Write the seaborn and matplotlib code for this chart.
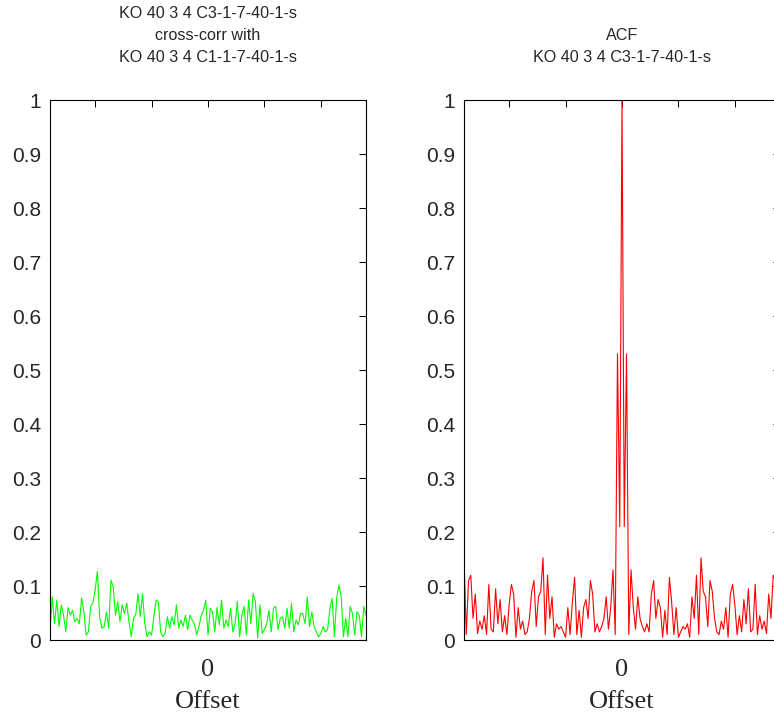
import numpy as np
import pandas as pd
import matplotlib
matplotlib.use("Agg")
import matplotlib.pyplot as plt
import seaborn as sns

# ---------------- data ----------------
lags = list(range(-70, 71))

xcorr_vals = [
    0.015, 0.080, 0.030, 0.074, 0.025, 0.065, 0.046, 0.015, 0.060, 0.046,
    0.055, 0.034, 0.040, 0.030, 0.078, 0.052, 0.009, 0.015, 0.062, 0.068,
    0.093, 0.127, 0.043, 0.022, 0.025, 0.052, 0.022, 0.111, 0.099, 0.046,
    0.071, 0.034, 0.065, 0.049, 0.068, 0.034, 0.006, 0.040, 0.048, 0.086,
    0.043, 0.086, 0.030, 0.006, 0.015, 0.009, 0.043, 0.074, 0.071, 0.015,
    0.006, 0.012, 0.043, 0.022, 0.043, 0.028, 0.065, 0.022, 0.037, 0.025,
    0.046, 0.019, 0.046, 0.037, 0.030, 0.009, 0.025, 0.046, 0.055, 0.074,
    0.009,
    0.059, 0.052, 0.015, 0.060, 0.028, 0.074, 0.022, 0.037, 0.025, 0.059,
    0.015, 0.030, 0.071, 0.006, 0.046, 0.062, 0.009, 0.074, 0.030, 0.086,
    0.071, 0.003, 0.065, 0.012, 0.019, 0.030, 0.055, 0.015, 0.059, 0.062,
    0.019, 0.040, 0.043, 0.022, 0.059, 0.022, 0.068, 0.015, 0.037, 0.028,
    0.049, 0.049, 0.030, 0.080, 0.025, 0.052, 0.025, 0.015, 0.006, 0.012,
    0.025, 0.015, 0.019, 0.059, 0.077, 0.006, 0.077, 0.102, 0.080, 0.006,
    0.040, 0.006, 0.062, 0.049, 0.009, 0.052, 0.046, 0.006, 0.062, 0.046,
]

acf_vals = [
    0.154, 0.010, 0.110, 0.120, 0.040, 0.085, 0.012, 0.035, 0.020, 0.045,
    0.010, 0.103, 0.020, 0.015, 0.095, 0.030, 0.075, 0.015, 0.045, 0.010,
    0.065, 0.103, 0.085, 0.005, 0.060, 0.020, 0.035, 0.010, 0.015, 0.040,
    0.090, 0.110, 0.025, 0.080, 0.090, 0.152, 0.010, 0.120, 0.040, 0.080,
    0.005, 0.030, 0.020, 0.025, 0.015, 0.005, 0.060, 0.010, 0.070, 0.116,
    0.010, 0.055, 0.005, 0.060, 0.075, 0.040, 0.110, 0.085, 0.015, 0.030,
    0.015, 0.025, 0.040, 0.080, 0.020, 0.060, 0.130, 0.010, 0.530, 0.210,
    1.000,
    0.210, 0.530, 0.010, 0.130, 0.060, 0.020, 0.080, 0.040, 0.025, 0.015,
    0.030, 0.015, 0.085, 0.110, 0.040, 0.075, 0.060, 0.005, 0.055, 0.010,
    0.116, 0.070, 0.010, 0.060, 0.005, 0.015, 0.025, 0.020, 0.030, 0.005,
    0.080, 0.040, 0.120, 0.010, 0.152, 0.090, 0.080, 0.025, 0.110, 0.090,
    0.040, 0.015, 0.010, 0.035, 0.020, 0.060, 0.005, 0.085, 0.103, 0.065,
    0.010, 0.045, 0.015, 0.075, 0.030, 0.095, 0.015, 0.020, 0.103, 0.010,
    0.045, 0.020, 0.035, 0.012, 0.085, 0.040, 0.120, 0.110, 0.010, 0.154,
]

ytick_vals = [0, 0.1, 0.2, 0.3, 0.4, 0.5, 0.6, 0.7, 0.8, 0.9, 1]
ytick_labels = ["0", "0.1", "0.2", "0.3", "0.4", "0.5", "0.6", "0.7", "0.8", "0.9", "1"]
xtick_vals = [-50, -25, 0, 25, 50]
xtick_labels = ["", "", "0", "", ""]

title_left = "KO 40 3 4 C3-1-7-40-1-s\ncross-corr with\nKO 40 3 4 C1-1-7-40-1-s"
title_right = "ACF\nKO 40 3 4 C3-1-7-40-1-s"
x_label = "Offset"

# ---------------- style ----------------
sns.set_theme(style="white")
plt.rcParams["font.family"] = ["Liberation Sans", "DejaVu Sans"]

SANS = ["Liberation Sans", "DejaVu Sans"]
SERIF = ["Liberation Serif", "DejaVu Serif"]

W, H = 774, 717
fig = plt.figure(figsize=(W / 100, H / 100), dpi=100)
fig.patch.set_facecolor("white")

ax_left = fig.add_axes([50 / W, 77 / H, 316 / W, 540 / H])
ax_right = fig.add_axes([464 / W, 77 / H, 316 / W, 540 / H])

df_left = pd.DataFrame({"lag": lags, "value": xcorr_vals})
df_right = pd.DataFrame({"lag": lags, "value": acf_vals})

sns.lineplot(data=df_left, x="lag", y="value", ax=ax_left,
             color="#00ff00", linewidth=0.8, estimator=None)
sns.lineplot(data=df_right, x="lag", y="value", ax=ax_right,
             color="#ff0000", linewidth=0.8, estimator=None)

for ax, ttl in [(ax_left, title_left), (ax_right, title_right)]:
    ax.set_facecolor("white")
    ax.set_xlim(-70, 70)
    ax.set_ylim(0, 1)
    ax.set_yticks(ytick_vals)
    ax.set_yticklabels(ytick_labels, fontsize=15, family=SANS)
    ax.set_xticks(xtick_vals)
    ax.set_xticklabels(xtick_labels, fontsize=19, family=SERIF)
    ax.tick_params(axis="both", direction="in", top=True, right=True,
                   length=5, width=0.75, color="black")
    ax.tick_params(axis="y", pad=6.5)
    ax.tick_params(axis="x", pad=14)
    for s in ax.spines.values():
        s.set_visible(True)
        s.set_color("black")
        s.set_linewidth(0.8)
    ax.set_ylabel("")
    ax.set_xlabel(x_label, fontsize=19, family=SERIF, labelpad=7)
    ax.set_title(ttl, fontsize=11.6, family=SANS, linespacing=1.6, pad=27)
    ax.grid(False)

fig.savefig("out.png", dpi=100, facecolor="white")
